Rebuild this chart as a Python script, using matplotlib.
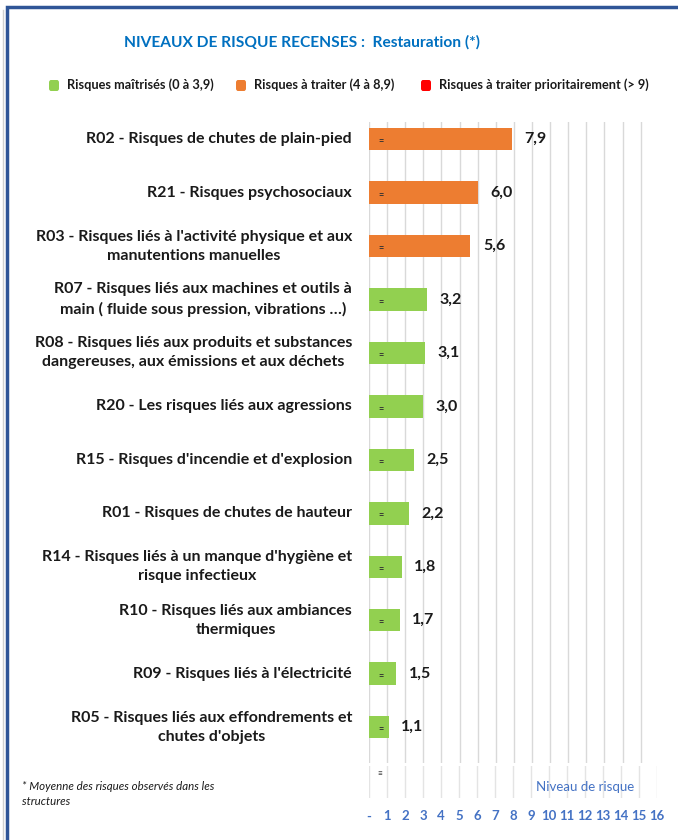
import matplotlib.pyplot as plt
from matplotlib.patches import FancyBboxPatch, Rectangle
from matplotlib.lines import Line2D
from matplotlib.transforms import blended_transform_factory

# Niveaux de risque moyens - Restauration
risques = [
    "R02 - Risques de chutes de plain-pied",
    "R21 - Risques psychosociaux",
    "R03 - Risques liés à l'activité physique et aux\nmanutentions manuelles",
    "R07 - Risques liés aux machines et outils à\nmain ( fluide sous pression, vibrations …)",
    "R08 - Risques liés aux produits et substances\ndangereuses, aux émissions et aux déchets",
    "R20 - Les risques liés aux agressions",
    "R15 - Risques d'incendie et d'explosion",
    "R01 - Risques de chutes de hauteur",
    "R14 - Risques liés à un manque d'hygiène et\nrisque infectieux",
    "R10 - Risques liés aux ambiances\nthermiques",
    "R09 - Risques liés à l'électricité",
    "R05 - Risques liés aux effondrements et\nchutes d'objets",
]
niveaux = [7.9, 6.0, 5.6, 3.2, 3.1, 3.0, 2.5, 2.2, 1.8, 1.7, 1.5, 1.1]
graduations = list(range(0, 17))
etiquettes_x = ["-"] + [str(g) for g in graduations[1:]]

VERT = "#92D050"
ORANGE = "#ED7D31"
ROUGE = "#FF0000"
BLEU = "#0070C0"
BLEU_AXE = "#4472C4"

plt.rcParams["font.family"] = ["Lato", "DejaVu Sans"]

W, H = 678, 840
fig = plt.figure(figsize=(W / 100, H / 100), dpi=100)


def couleur(v):
    if v < 4:
        return VERT
    if v < 9:
        return ORANGE
    return ROUGE


# cadre bleu autour du graphique
fig.add_artist(Rectangle((7 / W, -0.1), 1.2, 1 - 7 / H + 0.1, transform=fig.transFigure,
                         fill=False, edgecolor="#2F5597", linewidth=2.5))
fig.add_artist(Line2D([2.5 / W, 2.5 / W], [0, 1 - 10 / H], transform=fig.transFigure,
                      color="#D0D0D0", linewidth=1))

# axe principal
ax = fig.add_axes([369 / W, 1 - 763 / H, 288 / W, (763 - 122) / H])
pos = list(range(len(niveaux)))
ax.barh(pos, niveaux, height=0.42, color=[couleur(v) for v in niveaux], zorder=3)
ax.set_xlim(0, 15.9)
ax.set_ylim(11.67, -0.32)
for g in graduations:
    ax.axvline(g, color="#D9D9D9", linewidth=1, zorder=1)
ax.set_xticks([])
ax.set_yticks([])
for s in ax.spines.values():
    s.set_visible(False)

trans = blended_transform_factory(ax.transAxes, ax.transData)
for i, (nom, v) in enumerate(zip(risques, niveaux)):
    ax.text(-0.059, i, nom, transform=trans, ha="right", va="center",
            multialignment="center", fontsize=11.5, fontweight="bold",
            color="#1A1A1A", linespacing=1.45)
    ax.annotate(f"{v:.1f}".replace(".", ","), (v, i), xytext=(9, 0),
                textcoords="offset points", ha="left", va="center",
                fontsize=11.5, fontweight="bold", color="#1A1A1A")
    ax.text(0.65, i + 0.05, "=", ha="center", va="center", fontsize=6.5,
            fontweight="bold", color="#333333", zorder=4)

# bande inférieure avec l'échelle
ax2 = fig.add_axes([369 / W, 1 - 798 / H, 288 / W, 32 / H])
ax2.set_xlim(0, 15.9)
ax2.set_ylim(0, 1)
for g in graduations:
    ax2.axvline(g, color="#E4E4E4", linewidth=1)
ax2.set_xticks(graduations)
ax2.set_xticklabels(etiquettes_x, color=BLEU_AXE, fontsize=9.5, fontweight="bold")
ax2.tick_params(axis="x", length=0, pad=9)
ax2.set_yticks([])
for s in ax2.spines.values():
    s.set_visible(False)
ax2.text(0.6, 0.75, "≡", ha="center", va="center", fontsize=6, color="#333333")
ax2.text(12.0, 0.35, "Niveau de risque", ha="center", va="center",
         fontsize=9.5, color=BLEU_AXE)

# titre
fig.text(302 / W, 1 - 42 / H, "NIVEAUX DE RISQUE RECENSES :  Restauration (*)",
         ha="center", va="center", fontsize=11.2, fontweight="bold", color=BLEU)

# légende
legende = [(49, VERT, "Risques maîtrisés (0 à 3,9)"),
           (236, ORANGE, "Risques à traiter (4 à 8,9)"),
           (421, ROUGE, "Risques à traiter prioritairement (> 9)")]
for x0, c, txt in legende:
    fig.add_artist(FancyBboxPatch((x0 / W, 1 - 91 / H), 10 / W, 11 / H,
                                  boxstyle="round,pad=0,rounding_size=0.003",
                                  transform=fig.transFigure, facecolor=c,
                                  edgecolor="none"))
    fig.text((x0 + 18) / W, 1 - 85 / H, txt, ha="left", va="center",
             fontsize=9.2, fontweight="bold", color="#1A1A1A")

# note de bas de page
fig.text(22 / W, 1 - 794 / H, "* Moyenne des risques observés dans les\nstructures",
         ha="left", va="center", fontsize=8.3, style="italic", color="#1A1A1A",
         linespacing=1.5)

fig.savefig("out.png", dpi=100)
